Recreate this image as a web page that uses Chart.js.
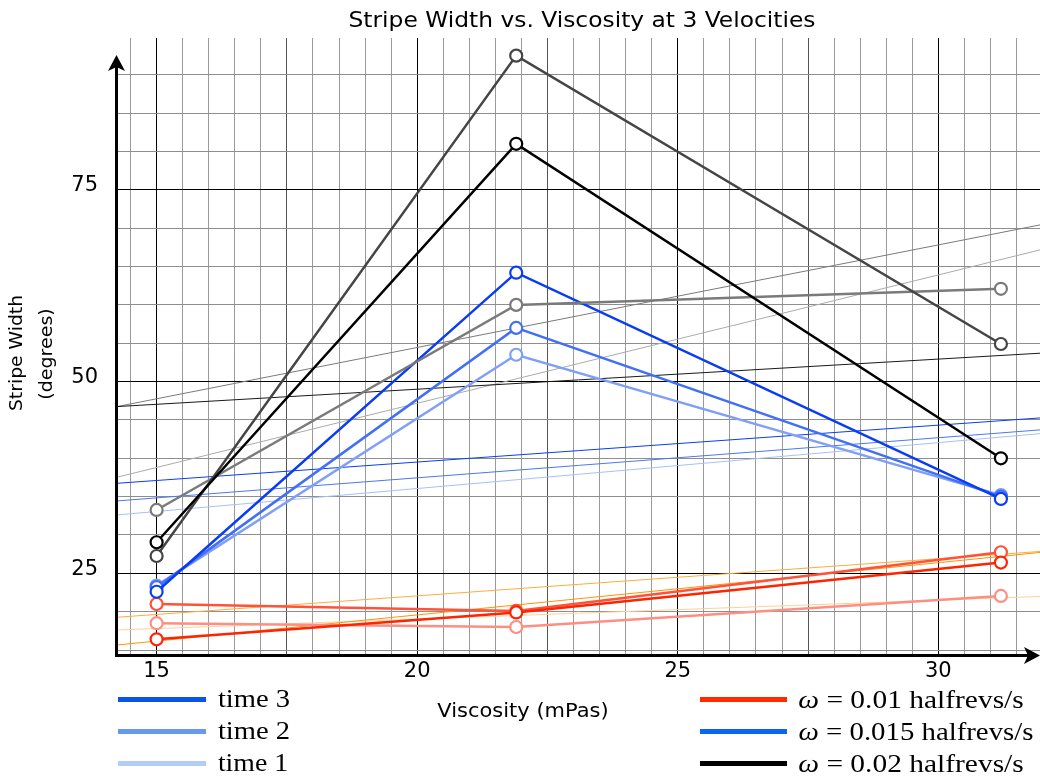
<!DOCTYPE html>
<html>
<head>
<meta charset="utf-8">
<script src="https://cdn.jsdelivr.net/npm/chart.js@4.4.1/dist/chart.umd.min.js"></script>
<style>
  html, body { margin: 0; padding: 0; background: #fff; }
  #wrap { position: relative; width: 1040px; height: 776px; overflow: hidden; background: #fff; }
  #c { position: absolute; left: 0; top: 0; }
  .lbl { position: absolute; white-space: nowrap; line-height: 1; color: #000; transform-origin: 50% 50%; }
  .sw { position: absolute; }
</style>
</head>
<body>
<div id="wrap"><canvas id="c" width="1040" height="776"></canvas></div>
<script>
// ---------------- data ----------------
const viscosity = [15, 21.9, 31.2];            // mPas

// omega = 0.01 halfrevs/s (red family)
const red3 = [16.4, 19.9, 26.4];
const red2 = [21.0, 20.1, 27.75];
const red1 = [18.5, 18.0, 22.05];
// omega = 0.015 halfrevs/s (blue family)
const blue3 = [22.6, 64.2, 34.7];
const blue2 = [23.2, 57.0, 35.0];
const blue1 = [23.4, 53.5, 35.2];
// omega = 0.02 halfrevs/s (black family)
const black3 = [29.05, 81.0, 40.0];
const black2 = [27.26, 92.5, 54.9];
const black1 = [33.26, 60.0, 62.1];

// fitted trend lines: values at the left and right edge of the plot
const trendEnds = [14.24, 31.95];
const trendBlack3 = [46.74, 53.7];
const trendBlack2 = [46.74, 70.43];
const trendBlack1 = [37.53, 67.17];
const trendBlue3 = [36.74, 45.26];
const trendBlue2 = [34.44, 43.70];
const trendBlue1 = [32.61, 43.21];
const trendOrangeA = [15.65, 27.72];
const trendOrangeB = [19.27, 27.85];
const trendOrangeC = [17.61, 21.98];

// axes
const xRange = [14.24, 31.95];
const yRange = [14.35, 94.8];
const xTickLabels = [15, 20, 25, 30];
const yTickLabels = [25, 50, 75];
const xGridStep = 0.5;
const yGridStep = 5;

// ---------------- chart ----------------
function pts(xs, ys) { return xs.map((x, i) => ({ x: x, y: ys[i] })); }
function series(vals, color, width) {
  return {
    data: pts(viscosity, vals), borderColor: color, borderWidth: width || 2.5,
    pointRadius: 6, pointBorderWidth: 2.2, pointBackgroundColor: '#ffffff',
    pointBorderColor: color, tension: 0, order: 0, fill: false
  };
}
function trend(vals, color) {
  return {
    data: pts(trendEnds, vals), borderColor: color, borderWidth: 1,
    pointRadius: 0, tension: 0, order: 1, fill: false
  };
}
function gridValues(lo, hi, step) {
  const out = [];
  for (let v = Math.ceil(lo / step) * step; v <= hi + 1e-9; v += step) out.push(Math.round(v * 100) / 100);
  return out;
}
const xGrid = gridValues(xRange[0], xRange[1], xGridStep).filter(v => v > xRange[0] + 0.05);
const yGrid = gridValues(yRange[0], yRange[1], yGridStep).filter(v => v > yRange[0] + 0.2);

const axisArrows = {
  id: 'axisArrows',
  afterDraw(chart) {
    const { ctx, chartArea: a } = chart;
    ctx.save();
    ctx.strokeStyle = '#000'; ctx.fillStyle = '#000'; ctx.lineWidth = 3;
    const ax = a.left - 0.5;
    ctx.beginPath(); ctx.moveTo(ax, a.bottom + 2); ctx.lineTo(ax, a.top + 26); ctx.stroke();
    ctx.beginPath();
    ctx.moveTo(ax, a.top + 17); ctx.lineTo(ax - 8.5, a.top + 33);
    ctx.lineTo(ax, a.top + 29); ctx.lineTo(ax + 8.5, a.top + 33); ctx.closePath(); ctx.fill();
    const ay = a.bottom + 0.5;
    ctx.beginPath(); ctx.moveTo(a.left - 2, ay); ctx.lineTo(a.right - 10, ay); ctx.stroke();
    ctx.beginPath();
    ctx.moveTo(a.right, ay); ctx.lineTo(a.right - 16, ay - 8.5);
    ctx.lineTo(a.right - 12, ay); ctx.lineTo(a.right - 16, ay + 8.5); ctx.closePath(); ctx.fill();
    ctx.restore();
  }
};

const chart = new Chart(document.getElementById('c'), {
  type: 'line',
  data: {
    datasets: [
      series(black3, '#000000'),
      series(black2, '#454545'),
      series(black1, '#7a7a7a'),
      series(blue3, '#0a3cf5'),
      series(blue2, '#416ff5'),
      series(blue1, '#7f9ff8'),
      series(red3, '#ff2400'),
      series(red2, '#ff5238'),
      series(red1, '#ff8e82'),
      trend(trendBlack3, '#1a1a1a'),
      trend(trendBlack2, '#7a7a7a'),
      trend(trendBlack1, '#ababab'),
      trend(trendBlue3, '#0a3cf5'),
      trend(trendBlue2, '#4a78f5'),
      trend(trendBlue1, '#a8bffa'),
      trend(trendOrangeA, '#ff9400'),
      trend(trendOrangeB, '#ffab3c'),
      trend(trendOrangeC, '#ffd09a')
    ]
  },
  options: {
    responsive: false,
    animation: false,
    events: [],
    layout: { autoPadding: false, padding: { top: 38, right: 0, bottom: 0, left: 0 } },
    plugins: { legend: { display: false }, title: { display: false }, tooltip: { enabled: false } },
    scales: {
      x: {
        type: 'linear', min: xRange[0], max: xRange[1],
        afterFit(s) { s.height = 121; s.paddingLeft = 0; s.paddingRight = 0; },
        afterBuildTicks(s) { s.ticks = xGrid.map(v => ({ value: v })); },
        border: { display: false },
        grid: {
          drawTicks: false, lineWidth: 1,
          color: c => {
            const v = c.tick ? c.tick.value : 0;
            if (Math.abs(v % 5) < 1e-6) return '#000000';
            if (Math.abs(v % 2.5) < 1e-6) return '#555555';
            return '#9a9a9a';
          }
        },
        ticks: {
          autoSkip: false, maxRotation: 0, minRotation: 0, padding: 4, color: '#000',
          font: { family: 'DejaVu Sans', size: 21 },
          callback: v => xTickLabels.includes(v) ? String(v) : ''
        }
      },
      y: {
        type: 'linear', min: yRange[0], max: yRange[1],
        afterFit(s) { s.width = 117; s.paddingTop = 0; s.paddingBottom = 0; },
        afterBuildTicks(s) { s.ticks = yGrid.map(v => ({ value: v })); },
        border: { display: false },
        grid: {
          drawTicks: false, lineWidth: 1,
          color: c => {
            const v = c.tick ? c.tick.value : 0;
            return (Math.abs(v % 25) < 1e-6) ? '#000000' : '#8e8e8e';
          }
        },
        ticks: {
          autoSkip: false, padding: 19, labelOffset: -4, color: '#000',
          font: { family: 'DejaVu Sans', size: 21 },
          callback: v => yTickLabels.includes(v) ? String(v) : ''
        }
      }
    }
  },
  plugins: [axisArrows]
});

// ---------------- texts and legends (HTML) ----------------
const wrap = document.getElementById('wrap');
function place(html, cx, cy, len, font, rot) {
  const el = document.createElement('div');
  el.className = 'lbl';
  el.style.font = font;
  el.innerHTML = html;
  wrap.appendChild(el);
  const w = el.offsetWidth;
  const s = len ? len / w : 1;
  el.style.left = cx + 'px';
  el.style.top = cy + 'px';
  el.style.transform = 'translate(-50%,-50%) rotate(' + (rot || 0) + 'deg) scaleX(' + s + ')';
}
function placeLeft(html, left, cy, len, font) { place(html, left + len / 2, cy, len, font, 0); }
function swatch(x1, x2, cy, h, color) {
  const d = document.createElement('div');
  d.className = 'sw';
  d.style.left = x1 + 'px'; d.style.width = (x2 - x1) + 'px';
  d.style.top = (cy - h / 2) + 'px'; d.style.height = h + 'px';
  d.style.background = color;
  wrap.appendChild(d);
}

const sans = '"DejaVu Sans", sans-serif';
const serif = '"Liberation Serif", "Times New Roman", serif';

place('Stripe Width vs. Viscosity at 3 Velocities', 581.5, 20, 467, '21px ' + sans);
place('Viscosity (mPas)', 522.5, 709.5, 171, '20px ' + sans);
place('Stripe Width', 14.5, 353, 115.7, '18px ' + sans, -90);
place('(degrees)', 45, 354, 92, '18px ' + sans, -90);

const timeLegend = [
  ['time 3', '#0a55e8', 72],
  ['time 2', '#6699ef', 72],
  ['time 1', '#b3cdf7', 70]
];
const omegaLegend = [
  ['<i>ω</i> = 0.01 halfrevs/s', '#ff2a00', 225],
  ['<i>ω</i> = 0.015 halfrevs/s', '#0a64f5', 235],
  ['<i>ω</i> = 0.02 halfrevs/s', '#000000', 225]
];
const legendRows = [699.5, 731.5, 763.5];
timeLegend.forEach((r, i) => {
  swatch(118, 206, legendRows[i], 4.5, r[1]);
  placeLeft(r[0], 218.3, legendRows[i] - 0.5, r[2], '25px ' + serif);
});
omegaLegend.forEach((r, i) => {
  swatch(700, 787, legendRows[i], 4.5, r[1]);
  placeLeft(r[0], 798.3, legendRows[i], r[2], '25px ' + serif);
});
</script>
</body>
</html>
